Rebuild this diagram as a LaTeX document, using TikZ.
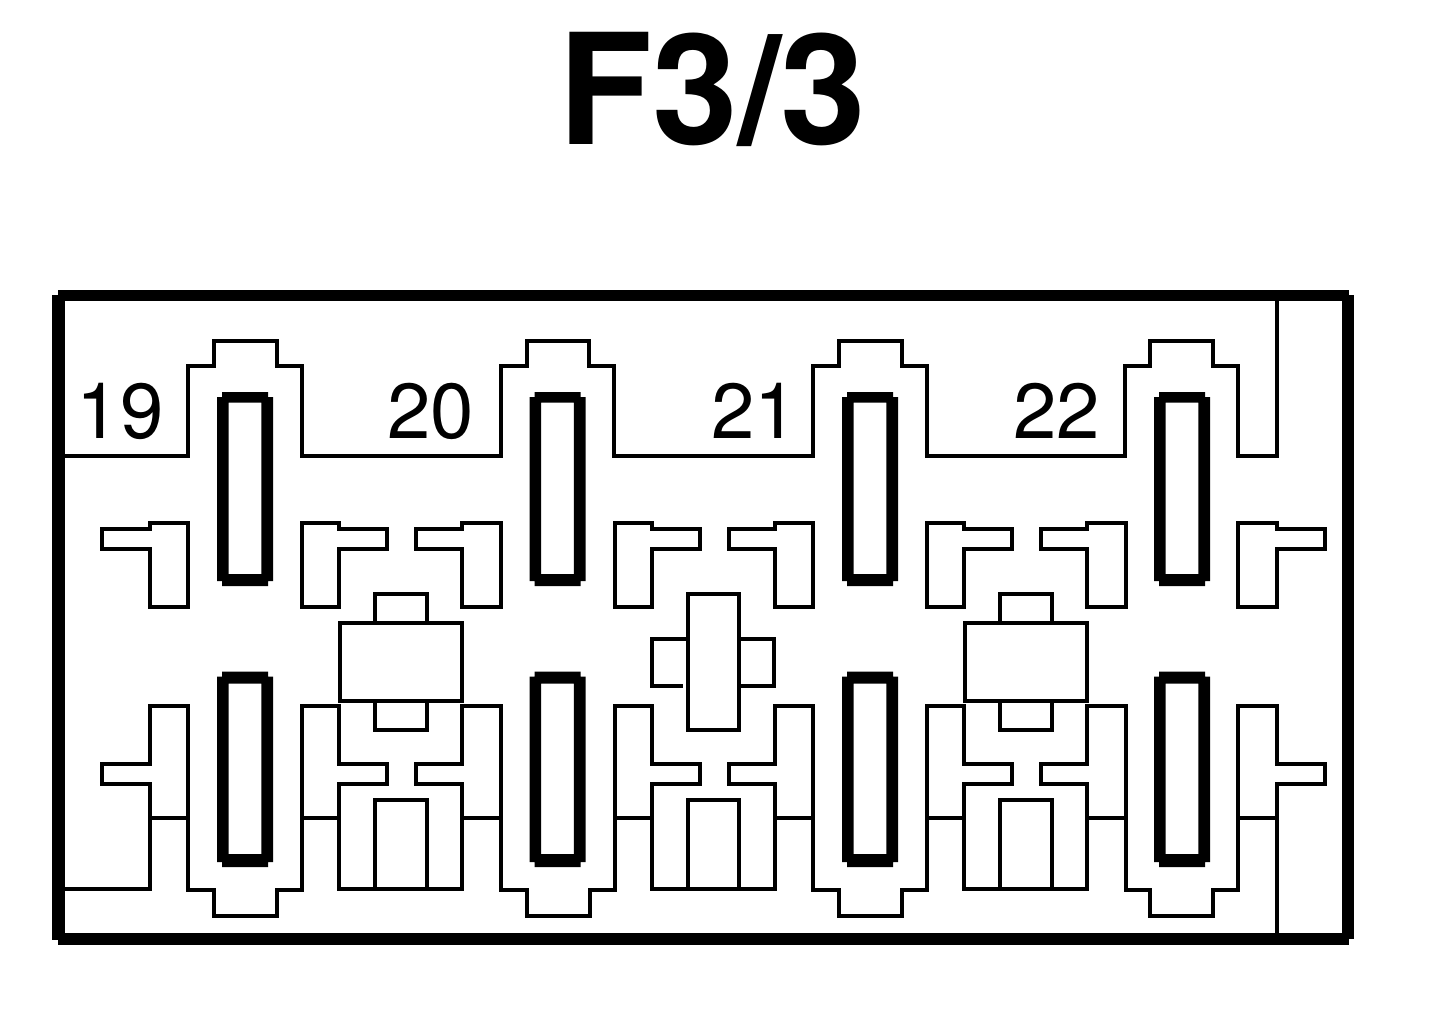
\documentclass[tikz,border=0pt]{standalone}
\usepackage{fontspec}
\setmainfont{TeX Gyre Heros}
\tikzset{
  thinline/.style={draw=black,line width=2pt,line join=miter,line cap=rect},
  thinshape/.style={draw=black,line width=2pt,line join=miter},
  heavy/.style={fill=black,draw=none},
  slot/.style={fill=black,draw=none,even odd rule},
  numlabel/.style={inner sep=0pt,anchor=base west,font=\fontsize{39}{39}\selectfont},
  titlelabel/.style={inner sep=0pt,anchor=base west,font=\fontsize{77}{77}\selectfont\bfseries}
}
\begin{document}
\begin{tikzpicture}[x=0.5pt,y=-0.5pt]
\useasboundingbox[fill=white] (0,0) rectangle (1440,1018);
% thin outlines
\draw[thinline] (60,456) -- (188,456) -- (188,366) -- (214,366) -- (214,341) -- (277,341) -- (277,366) -- (302,366) -- (302,456)
  -- (500.7,456) -- (500.7,366) -- (526.5,366) -- (526.5,341) -- (589,341) -- (589,366) -- (614,366) -- (614,456)
  -- (813,456) -- (813,366) -- (839,366) -- (839,341) -- (901.5,341) -- (901.5,366) -- (926.5,366) -- (926.5,456)
  -- (1125,456) -- (1125,366) -- (1150,366) -- (1150,341) -- (1213,341) -- (1213,366) -- (1238.3,366) -- (1238.3,456)
  -- (1276.7,456) -- (1276.7,298);
\draw[thinline] (60,889) -- (150,889) -- (150,784) -- (102,784) -- (102,764) -- (150,764) -- (150,706) -- (188,706);
% repeating lower units
\foreach \s in {0,312.5,625}{
\begin{scope}[shift={(\s,0)}]
  \draw[thinline] (188,706) -- (188,890) -- (214,890) -- (214,916) -- (277,916) -- (277,890) -- (302,890) -- (302,706) -- (339.3,706)
    -- (339.3,764) -- (387,764) -- (387,784) -- (339.3,784) -- (339.3,889) -- (462.3,889) -- (462.3,784) -- (416,784) -- (416,764)
    -- (462.3,764) -- (462.3,706) -- (500.7,706);
  \draw[thinshape] (375,889) -- (375,800) -- (426.7,800) -- (426.7,889);
  \draw[thinline] (302,817.5) -- (339.3,817.5);
  \draw[thinline] (462.3,817.5) -- (500.7,817.5);
  \draw[thinshape] (302,523) -- (339.3,523) -- (339.3,529) -- (387,529) -- (387,549) -- (339.3,549) -- (339.3,607) -- (302,607) -- cycle;
  \draw[thinshape] (500.7,523) -- (462.3,523) -- (462.3,529) -- (416,529) -- (416,549) -- (462.3,549) -- (462.3,607) -- (500.7,607) -- cycle;
\end{scope}
}
\draw[thinline] (150,817.5) -- (188,817.5);
\draw[thinline] (1238.3,817.5) -- (1276.7,817.5);
\draw[thinline] (1125.5,706) -- (1125.5,890) -- (1150,890) -- (1150,916) -- (1213,916) -- (1213,890) -- (1238.3,890) -- (1238.3,706)
  -- (1276.7,706) -- (1276.7,764) -- (1325,764) -- (1325,784) -- (1276.7,784) -- (1276.7,935);
% end contacts, upper row
\draw[thinshape] (188,523) -- (150,523) -- (150,529) -- (102,529) -- (102,549) -- (150,549) -- (150,607) -- (188,607) -- cycle;
\draw[thinshape] (1238.3,523) -- (1276.7,523) -- (1276.7,529) -- (1325,529) -- (1325,549) -- (1276.7,549) -- (1276.7,607) -- (1238.3,607) -- cycle;
% relay blocks
\foreach \s in {0,625}{
\begin{scope}[shift={(\s,0)}]
  \draw[thinshape] (375,622.7) -- (375,593.5) -- (426.7,593.5) -- (426.7,622.7);
  \draw[thinshape] (375,701) -- (375,730) -- (426.7,730) -- (426.7,701);
  \draw[thinshape] (340,622.7) rectangle (462.3,701);
\end{scope}
}
\draw[thinshape] (688.3,594) rectangle (739,730);
\draw[thinshape] (688.3,638.7) -- (652,638.7) -- (652,685.7) -- (682.7,685.7);
\draw[thinshape] (739,638.7) -- (774.3,638.7) -- (774.3,685.7) -- (739,685.7);
% heavy blades
\foreach \c in {245,557.5,870,1182}{
  \fill[slot] (\c-23,392) -- (\c+23,392) -- (\c+23,397) -- (\c+28,397) -- (\c+28,581) -- (\c+23,581) -- (\c+23,586) -- (\c-23,586) -- (\c-23,581) -- (\c-28,581) -- (\c-28,397) -- (\c-23,397) -- cycle
    (\c-16.3,402.7) rectangle (\c+16.3,574);
  \fill[slot] (\c-23,671.7) -- (\c+23,671.7) -- (\c+23,676.7) -- (\c+28,676.7) -- (\c+28,862) -- (\c+23,862) -- (\c+23,867) -- (\c-23,867) -- (\c-23,862) -- (\c-28,862) -- (\c-28,676.7) -- (\c-23,676.7) -- cycle
    (\c-16.3,683.7) rectangle (\c+16.3,854);
}
% frame
\fill[heavy] (58,290) rectangle (1349,301);
\fill[heavy] (58,933) rectangle (1349,945);
\fill[heavy] (52,295) rectangle (65,940);
\fill[heavy] (1342,295) rectangle (1354,939);
% text
\node[titlelabel] (title) at (558,144.5) {F3/3};
\node[numlabel] (n19) at (76.5,438) {19};
\node[numlabel] (n20) at (387,438) {20};
\node[numlabel] (n21) at (711,438) {21};
\node[numlabel] (n22) at (1013,438) {22};
\end{tikzpicture}
\end{document}
